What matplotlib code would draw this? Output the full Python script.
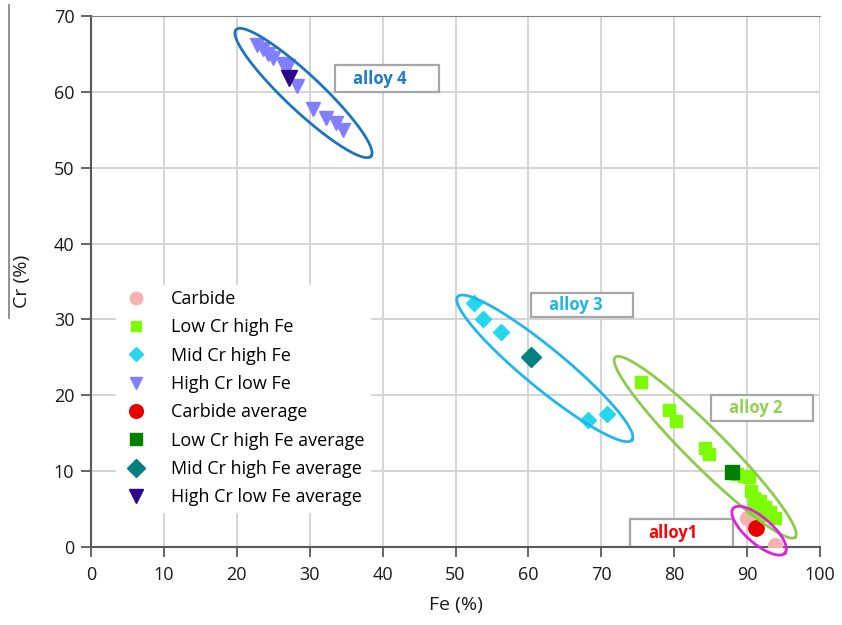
import numpy as np
import matplotlib
matplotlib.use("Agg")
import matplotlib.pyplot as plt
from matplotlib.patches import Rectangle
from matplotlib.lines import Line2D

plt.rcParams['font.family'] = ['Open Sans', 'DejaVu Sans']

# measured points (Fe %, Cr %)
carbide_fe = [90.0, 90.8, 93.8]
carbide_cr = [3.8, 3.0, 0.2]
lowcr_fe = [75.5, 79.3, 80.3, 84.2, 84.8, 88.6, 89.6, 90.2, 90.6, 91.0, 91.8, 92.5, 93.2, 93.8, 91.0, 92.0]
lowcr_cr = [21.8, 18.0, 16.6, 13.0, 12.2, 9.6, 9.3, 9.2, 7.4, 6.5, 6.0, 5.3, 4.6, 3.8, 5.0, 4.2]
midcr_fe = [52.6, 53.8, 56.3, 68.2, 70.8]
midcr_cr = [32.1, 30.0, 28.4, 16.8, 17.5]
highcr_fe = [22.8, 23.6, 24.3, 25.0, 26.3, 27.0, 28.2, 30.5, 32.2, 33.6, 34.5]
highcr_cr = [66.2, 65.6, 65.0, 64.4, 63.7, 63.4, 60.8, 57.8, 56.5, 55.9, 55.0]

# averages
carbide_avg = (91.2, 2.5)
lowcr_avg = (87.9, 9.9)
midcr_avg = (60.3, 25.0)
highcr_avg = (27.1, 61.8)

# alloy groups: tips of ellipse major axis (data), minor half-width (px), label box, colours
alloys = ['alloy 4', 'alloy 3', 'alloy 2', 'alloy1']
ell_tip1 = [(19.9, 68.2), (50.3, 33.0), (71.9, 25.0), (88.1, 5.1)]
ell_tip2 = [(38.4, 51.5), (74.2, 14.1), (96.6, 1.3), (95.2, -0.8)]
ell_b = [18, 20, 19, 13]
ell_colors = ['#1C75BC', '#1EB6EE', '#8CCB4A', '#E020E0']
box_x = [(33.5, 47.7), (60.3, 74.3), (85.0, 99.1), (73.9, 88.0)]
box_y = [(60.0, 63.5), (30.3, 33.5), (16.6, 20.1), (0.05, 3.65)]
txt_x = [39.6, 66.5, 91.2, 79.8]
txt_colors = ['#1F78C8', '#1EB4E6', '#92D050', '#FF0000']

fig = plt.figure(figsize=(8.42, 6.25), dpi=100)
ax = fig.add_axes([91/842, 78/625, 729/842, 531/625])
ax.set_xlim(0, 100)
ax.set_ylim(0, 70)
ax.set_xticks(np.arange(0, 101, 10))
ax.set_yticks(np.arange(0, 71, 10))
ax.grid(True, color='#D4D4D4', lw=1.4)
ax.set_axisbelow(True)
ax.spines['right'].set_visible(False)
ax.spines['top'].set_color('#7F7F7F')
for s in ['left', 'bottom']:
    ax.spines[s].set_color('#595959')
    ax.spines[s].set_linewidth(1.5)
ax.tick_params(direction='out', length=7, width=1.3, color='#595959',
               labelsize=13, labelcolor='#1a1a1a')
ax.tick_params(axis='x', pad=7)
ax.tick_params(axis='y', pad=5)
ax.set_xlabel('Fe (%)', fontsize=14, color='#1a1a1a', labelpad=8)
ax.set_ylabel('Cr (%)', fontsize=14, color='#1a1a1a', labelpad=16.5)

# label boxes
for (x0, x1), (y0, y1), tx, tc, name in zip(box_x, box_y, txt_x, txt_colors, alloys):
    ax.add_patch(Rectangle((x0, y0), x1 - x0, y1 - y0, facecolor='white',
                           edgecolor='#A6A6A6', lw=1.6, zorder=2))
    ax.text(tx, (y0 + y1) / 2, name, color=tc, fontsize=12, fontweight='bold',
            ha='center', va='center', zorder=3)

# data
ax.plot(carbide_fe, carbide_cr, 'o', color='#F6B2AE', ms=10, label='Carbide', zorder=4)
ax.plot(lowcr_fe, lowcr_cr, 's', color='#7CFC00', ms=8.5, label='Low Cr high Fe', zorder=4)
ax.plot(midcr_fe, midcr_cr, 'D', color='#22D8EA', ms=8, label='Mid Cr high Fe', zorder=4)
ax.plot(highcr_fe, highcr_cr, 'v', color='#8080FF', ms=9.5, label='High Cr low Fe', zorder=4)
ax.plot(*carbide_avg, 'o', color='#E80000', ms=11, label='Carbide average', zorder=5)
ax.plot(*lowcr_avg, 's', color='#008000', ms=10, label='Low Cr high Fe average', zorder=5)
ax.plot(*midcr_avg, 'D', color='#008080', ms=10, label='Mid Cr high Fe average', zorder=5)
ax.plot(*highcr_avg, 'v', color='#2A0A8A', ms=11, label='High Cr low Fe average', zorder=5)

# ellipses, drawn in pixel space so they look right on unequal axes
t = np.linspace(0, 2 * np.pi, 300)
for p1, p2, b, c in zip(ell_tip1, ell_tip2, ell_b, ell_colors):
    d1 = ax.transData.transform(p1)
    d2 = ax.transData.transform(p2)
    cen = (d1 + d2) / 2
    v = (d2 - d1) / 2
    a = np.hypot(*v)
    u = v / a
    n = np.array([-u[1], u[0]])
    pts = cen + np.outer(a * np.cos(t), u) + np.outer(b * np.sin(t), n)
    dpts = ax.transData.inverted().transform(pts)
    ax.plot(dpts[:, 0], dpts[:, 1], color=c, lw=2, zorder=6, clip_on=False)

leg = ax.legend(loc='upper left', bbox_to_anchor=(0.034, 0.494), frameon=True,
                fontsize=13, labelspacing=0.57, handlelength=1.6, handletextpad=1.15,
                borderpad=0.3, borderaxespad=0, markerscale=0.9)
leg.get_frame().set_edgecolor('white')
leg.get_frame().set_facecolor('white')
leg.get_frame().set_alpha(1)

# stray vertical rule left of the y label
fig.add_artist(Line2D([9/842, 9/842], [1 - 5/625, 1 - 318/625], color='#7F7F7F', lw=1.2))

fig.savefig('out.png', dpi=100)
